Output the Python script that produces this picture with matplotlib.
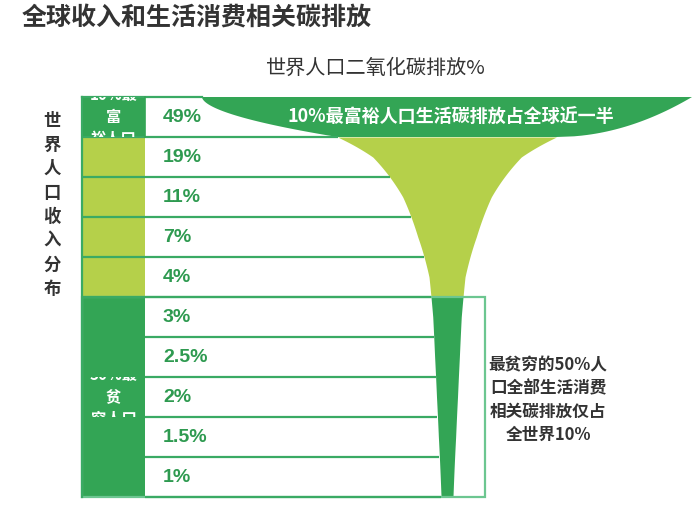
import matplotlib
matplotlib.use("Agg")
import matplotlib.pyplot as plt
import numpy as np
from matplotlib.patches import Rectangle, Polygon
from matplotlib.transforms import Bbox, TransformedBbox

plt.rcParams["font.family"] = ["Noto Sans CJK SC", "DejaVu Sans"]

# data
title = "全球收入和生活消费相关碳排放"
subtitle = "世界人口二氧化碳排放%"
axis_label = "世界人口收入分布"
shares = [49, 19, 11, 7, 4, 3, 2.5, 2, 1.5, 1]
share_labels = ["49%", "19%", "11%", "7%", "4%", "3%", "2.5%", "2%", "1.5%", "1%"]
group_names = ["10%最富裕人口", "", "50%最贫穷人口"]
group_sizes = [1, 4, 5]
band_text = "10%最富裕人口生活碳排放占全球近一半"
note_text = "最贫穷的50%人\n口全部生活消费\n相关碳排放仅占\n全世界10%"

DARK = "#33a555"
LIGHT = "#b5d04a"
LINE = "#3aaa64"
BOX = "#6cc690"
TXT = "#333333"

fig = plt.figure(figsize=(7, 5.21), dpi=100)
ax = fig.add_axes([0, 0, 1, 1])
ax.set_xlim(0, 700)
ax.set_ylim(521, 0)
ax.axis("off")

top, row_h = 97, 40
x0, x1 = 82, 145
cx = 447
n = len(shares)
y_mid = top + row_h / 2 + row_h * np.arange(n)

# funnel width (px) from the share of each row
w = 7.5 * np.asarray(shares, dtype=float) + 6
ky = list(y_mid[1:])
kw = list(np.log(w[1:]))
ky = [ky[0] - row_h / 2] + ky + [ky[-1] + row_h / 2]
kw = [kw[0] + 0.75 * (kw[0] - kw[1])] + kw + [kw[-1] + 0.5 * (kw[-1] - kw[-2])]


def edges(y):
    ww = np.exp(np.interp(y, ky, kw))
    return cx - ww / 2, cx + ww / 2


# left column cells
colors = []
for gi, size in enumerate(group_sizes):
    colors += [DARK if gi != 1 else LIGHT] * size
for i in range(n):
    ax.add_patch(Rectangle((x0, top + i * row_h), x1 - x0, row_h, facecolor=colors[i], edgecolor="none"))

# funnel
split = top + row_h * (group_sizes[0] + group_sizes[1])
y_light = np.linspace(top + row_h, split, 200)
l, r = edges(y_light)
ax.fill_betweenx(y_light, l, r, color=LIGHT, lw=0)
y_dark = np.linspace(split, top + n * row_h, 200)
l, r = edges(y_dark)
ax.fill_betweenx(y_dark, l, r, color=DARK, lw=0)

# top band (richest 10%)
half_top = shares[0] * 5
u = np.linspace(0, 1, 60)
lb, rb = edges(top + row_h)
xl = (cx - half_top) + (lb - (cx - half_top)) * u ** 1.8
xr = (cx + half_top) - ((cx + half_top) - rb) * (1 - np.sqrt(1 - u))
yy = top + row_h * u
pts = np.vstack([np.column_stack([xl, yy]), np.column_stack([xr[::-1], yy[::-1]])])
ax.add_patch(Polygon(pts, closed=True, facecolor=DARK, edgecolor="none"))

# row lines
ax.plot([x0, cx - half_top], [top, top], color=LINE, lw=1.6)
for i in range(1, n + 1):
    y = top + i * row_h
    start = x1 if i > group_sizes[0] + group_sizes[1] else x0
    end = edges(y)[0]
    ax.plot([start, end], [y, y], color=LINE, lw=1.6, solid_capstyle="butt")
ax.plot([x0, x0], [top, top + n * row_h], color=LINE, lw=1.6)
ax.plot([x1, x1], [top, top + row_h], color=DARK, lw=1.2)
ax.add_patch(Rectangle((x0, split), 485 - x0, top + n * row_h - split, facecolor="none", edgecolor=BOX, lw=1.6))

# percentage labels
for i in range(n):
    ax.text(163, y_mid[i] + 1, share_labels[i], color="#2e9a50", fontsize=14, fontweight="bold",
            family=["Liberation Sans", "DejaVu Sans"], ha="left", va="center")

# group labels, clipped to a one-row box
start = 0
for name, size in zip(group_names, group_sizes):
    if name:
        yc = top + row_h * (start + size / 2)
        lines = name[:4] + "\n" + name[4] + "\n" + name[5:]
        t = ax.text((x0 + x1) / 2, yc, lines, color="white", fontsize=11, ha="center", va="center",
                    linespacing=1.45, fontweight="bold")
        t.set_clip_box(TransformedBbox(Bbox([[x0, yc - row_h / 2], [x1, yc + row_h / 2]]), ax.transData))
        t.set_clip_on(True)
    start += size

# titles and notes
ax.text(22, 18, title, fontsize=18, fontweight="bold", color=TXT, ha="left", va="center")
ax.text(376, 68, subtitle, fontsize=14.5, color=TXT, ha="center", va="center")
for k, ch in enumerate(axis_label):
    ax.text(52, 121 + k * 24, ch, fontsize=12.5, fontweight="bold", color=TXT, ha="center", va="center")
ax.text(cx + 4, 117, band_text, fontsize=13, fontweight="bold", color="white", ha="center", va="center")
ax.text(548, 400, note_text, fontsize=12, fontweight="bold", color=TXT, ha="center", va="center",
        linespacing=1.35)

fig.savefig("out.png", dpi=100)
